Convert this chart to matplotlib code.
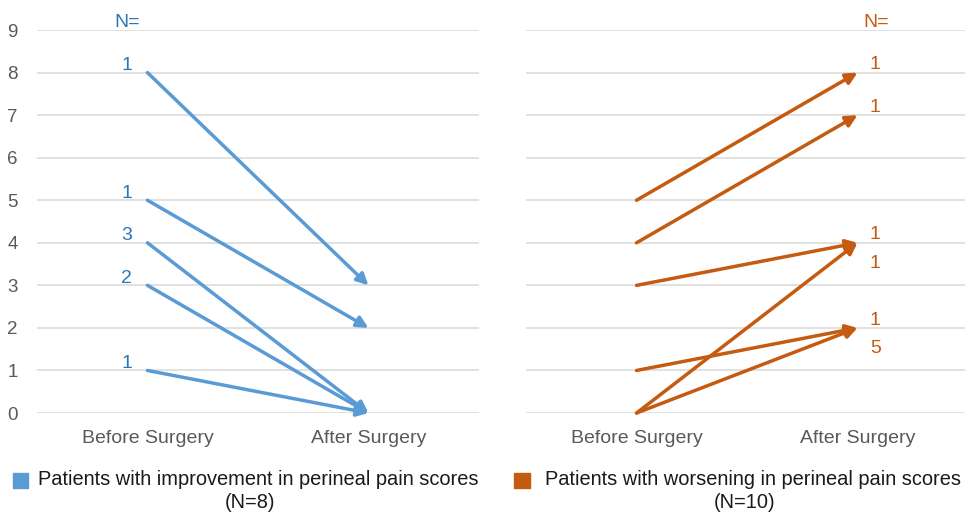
import matplotlib
matplotlib.use("Agg")
import matplotlib.pyplot as plt
from matplotlib.patches import Rectangle

plt.rcParams['font.family'] = ['Liberation Sans', 'DejaVu Sans']

categories = ["Before Surgery", "After Surgery"]
yticks = list(range(0, 10))

# improvement group: score before -> after, with patient counts
imp_before = [8, 5, 4, 3, 1]
imp_after = [3, 2, 0, 0, 0]
imp_n = ["1", "1", "3", "2", "1"]

# worsening group
wor_before = [5, 4, 3, 1, 0, 0]
wor_after = [8, 7, 4, 2, 4, 2]
# counts are written next to the arrow tips (value, text, above/below)
wor_label_vals = [8, 7, 4, 4, 2, 2]
wor_n = ["1", "1", "1", "1", "1", "5"]
wor_label_above = [True, True, True, False, True, False]

legend_imp = ["Patients with improvement in perineal pain scores", "(N=8)"]
legend_wor = ["Patients with worsening in perineal pain scores", "(N=10)"]

blue = "#5B9BD5"
blue_txt = "#2E75B6"
orange = "#C55A11"
grid_c = "#D9D9D9"
tick_c = "#595959"

fig = plt.figure(figsize=(9.65, 5.15), dpi=100)
ax1 = fig.add_axes([0.0383, 0.198, 0.458, 0.7437])
ax2 = fig.add_axes([0.5451, 0.198, 0.458, 0.7437])


def style_axis(ax, show_y):
    ax.set_xlim(-0.5, 1.5)
    ax.set_ylim(0, 9)
    ax.set_yticks(yticks)
    ax.set_xticks(range(len(categories)))
    ax.set_xticklabels(categories)
    for s in ax.spines.values():
        s.set_visible(False)
    ax.grid(axis='y', color=grid_c, lw=1.1)
    ax.set_axisbelow(True)
    ax.tick_params(axis='both', length=0, colors=tick_c)
    ax.tick_params(axis='x', labelsize=14, pad=12)
    ax.tick_params(axis='y', labelsize=13.5, pad=14)
    if not show_y:
        ax.set_yticklabels([])
    ax.patch.set_alpha(0)


def draw_arrow(ax, y0, y1, color):
    ax.annotate("", xy=(1, y1), xytext=(0, y0),
                arrowprops=dict(arrowstyle='-|>', color=color, lw=2.5,
                                mutation_scale=17, shrinkA=0, shrinkB=0),
                annotation_clip=False)


style_axis(ax1, True)
style_axis(ax2, False)

for b, a, n in zip(imp_before, imp_after, imp_n):
    draw_arrow(ax1, b, a, blue)
    ax1.text(-0.095, b + 0.06, n, color=blue_txt, fontsize=14,
             ha='center', va='baseline')
ax1.text(-0.09, 9.07, "N=", color=blue_txt, fontsize=14,
         ha='center', va='baseline', clip_on=False)

for b, a in zip(wor_before, wor_after):
    draw_arrow(ax2, b, a, orange)
for v, n, above in zip(wor_label_vals, wor_n, wor_label_above):
    y = v + 0.08 if above else v - 0.6
    ax2.text(1.08, y, n, color=orange, fontsize=14,
             ha='center', va='baseline')
ax2.text(1.085, 9.07, "N=", color=orange, fontsize=14,
         ha='center', va='baseline', clip_on=False)

# legends below each panel
legend_kw = dict(ha='center', va='baseline', fontsize=14.4, color="#1a1a1a")
fig.patches.append(Rectangle((13 / 965, 1 - 488 / 515), 15 / 965, 15 / 515,
                             transform=fig.transFigure, color=blue))
fig.text(258.5 / 965, 1 - 485 / 515, legend_imp[0], **legend_kw)
fig.text(250 / 965, 1 - 508 / 515, legend_imp[1], **legend_kw)
fig.patches.append(Rectangle((514 / 965, 1 - 488 / 515), 16 / 965, 15 / 515,
                             transform=fig.transFigure, color=orange))
fig.text(753 / 965, 1 - 485 / 515, legend_wor[0], **legend_kw)
fig.text(745 / 965, 1 - 508 / 515, legend_wor[1], **legend_kw)

fig.savefig("out.png", dpi=100)
